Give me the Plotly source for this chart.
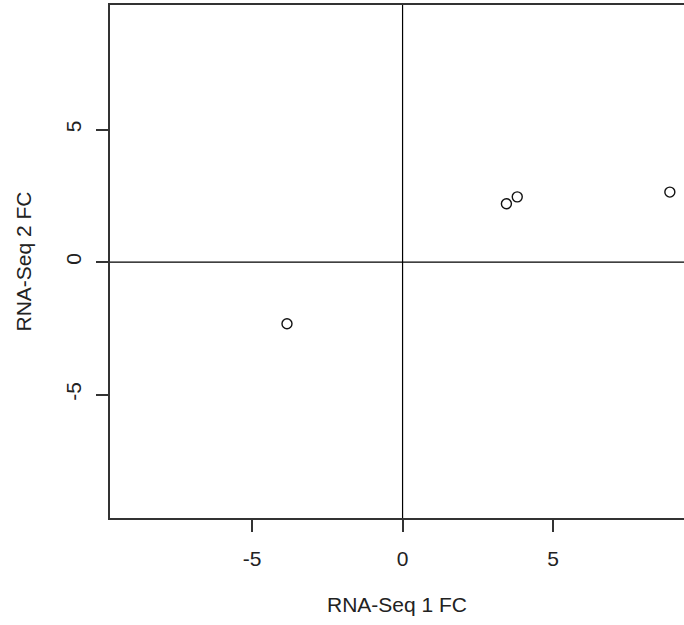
import plotly.graph_objects as go

# Fold changes of the shared genes in the two RNA-Seq runs
fc_run1 = [-3.84, 3.45, 3.81, 8.88]
fc_run2 = [-2.33, 2.20, 2.46, 2.64]

tick_vals = [-5, 0, 5]
tick_text = ["-5", "0", "5"]

font = dict(family="Liberation Sans, Arial, sans-serif", size=21, color="#222222")

fig = go.Figure()
fig.add_trace(go.Scatter(
    x=fc_run1, y=fc_run2, mode="markers",
    marker=dict(symbol="circle-open", size=10, color="#111111", line=dict(width=1.4)),
    showlegend=False, hoverinfo="x+y",
))

# Reference lines through the origin
fig.add_hline(y=0, line=dict(color="black", width=1.2))
fig.add_vline(x=0, line=dict(color="black", width=1.2))

fig.update_layout(
    width=684, height=625,
    margin=dict(l=110, r=0, t=5, b=107),
    paper_bgcolor="white", plot_bgcolor="white",
    font=font,
    xaxis=dict(
        range=[-9.72, 9.35], tickvals=tick_vals, ticktext=tick_text,
        showgrid=False, zeroline=False, showline=True, linecolor="#333333", linewidth=1.5,
        mirror=True, ticks="outside", ticklen=12, tickcolor="#333333", tickwidth=1.5,
        ticklabelstandoff=9,
        title=dict(text="RNA-Seq 1 FC", font=font, standoff=28),
    ),
    yaxis=dict(
        range=[-9.66, 9.70], tickvals=tick_vals, ticktext=tick_text, tickangle=-90,
        showgrid=False, zeroline=False, showline=True, linecolor="#333333", linewidth=1.5,
        ticks="outside", ticklen=12, tickcolor="#333333", tickwidth=1.5,
        ticklabelstandoff=7,
        title=dict(text="RNA-Seq 2 FC", font=font, standoff=24),
    ),
)

fig.write_html("out.html")
